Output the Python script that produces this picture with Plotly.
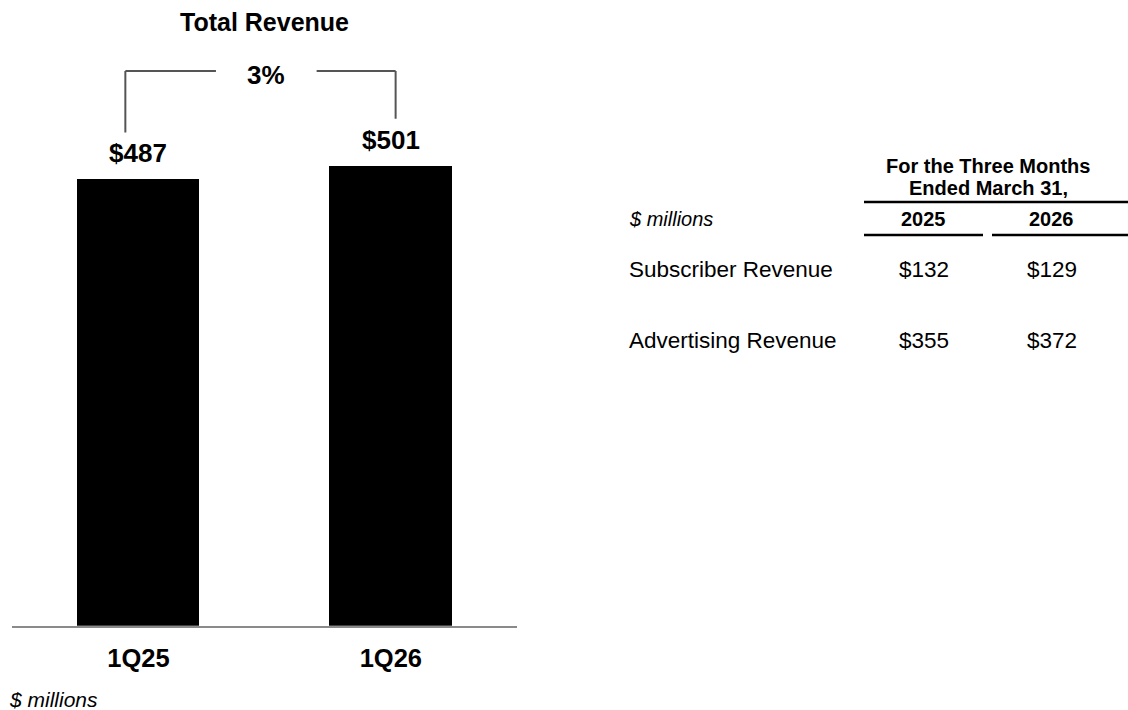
import plotly.graph_objects as go

# Quarterly totals ($ millions)
quarters = ["1Q25", "1Q26"]
total_revenue = [487, 501]

# Breakdown table
table_years = ["2025", "2026"]
row_labels = ["Subscriber Revenue", "Advertising Revenue"]
rev_2025 = [132, 355]
rev_2026 = [129, 372]

FONT = "Liberation Sans, Arial, sans-serif"
W, H = 1128, 710


def px(x):
    return x / W


def py(y):
    return 1 - y / H


fig = go.Figure()
fig.add_trace(go.Bar(
    x=quarters, y=total_revenue,
    marker=dict(color="#000000", line=dict(width=0)),
    width=0.485, hoverinfo="skip",
))

annotations = []
shapes = []

# Value labels above bars
for q, v in zip(quarters, total_revenue):
    annotations.append(dict(
        x=q, y=v, xref="x", yref="y", text=f"<b>${v}</b>",
        showarrow=False, yanchor="bottom", xanchor="center", yshift=9,
        font=dict(family=FONT, size=26, color="#000"),
    ))

# Growth bracket
growth = (total_revenue[1] - total_revenue[0]) / total_revenue[0] * 100
top_y = 605
bcol = "#555555"
shapes += [
    dict(type="line", xref="x", yref="y", x0=-0.052, x1=-0.052,
         y0=total_revenue[0] + 51, y1=top_y, line=dict(color=bcol, width=2)),
    dict(type="line", xref="x", yref="y", x0=-0.052, x1=0.307,
         y0=top_y, y1=top_y, line=dict(color=bcol, width=2)),
    dict(type="line", xref="x", yref="y", x0=0.706, x1=1.019,
         y0=top_y, y1=top_y, line=dict(color=bcol, width=2)),
    dict(type="line", xref="x", yref="y", x0=1.019, x1=1.019,
         y0=total_revenue[1] + 52, y1=top_y, line=dict(color=bcol, width=2)),
]
annotations.append(dict(
    x=0.505, y=top_y, xref="x", yref="y", text=f"<b>{growth:.0f}%</b>",
    showarrow=False, yanchor="middle", xanchor="center", yshift=-4,
    font=dict(family=FONT, size=26, color="#000"),
))

# Chart title and unit note
annotations.append(dict(
    x=px(264), y=py(22), xref="paper", yref="paper", text="<b>Total Revenue</b>",
    showarrow=False, yanchor="middle", xanchor="center",
    font=dict(family=FONT, size=25, color="#000"),
))
annotations.append(dict(
    x=px(7), y=py(699), xref="paper", yref="paper", text="<i>$ millions</i>",
    showarrow=False, yanchor="middle", xanchor="left",
    font=dict(family=FONT, size=21, color="#000"),
))

# Table header
for txt, yy in [("For the Three Months", 166), ("Ended March 31,", 188)]:
    annotations.append(dict(
        x=px(988), y=py(yy), xref="paper", yref="paper", text=f"<b>{txt}</b>",
        showarrow=False, yanchor="middle", xanchor="center",
        font=dict(family=FONT, size=20, color="#000"),
    ))
annotations.append(dict(
    x=px(627), y=py(219), xref="paper", yref="paper", text="<i>$ millions</i>",
    showarrow=False, yanchor="middle", xanchor="left",
    font=dict(family=FONT, size=20, color="#000"),
))
col_x = [923.5, 1051.5]
for yr, cx in zip(table_years, col_x):
    annotations.append(dict(
        x=px(cx), y=py(219), xref="paper", yref="paper", text=f"<b>{yr}</b>",
        showarrow=False, yanchor="middle", xanchor="center",
        font=dict(family=FONT, size=20, color="#000"),
    ))

shapes += [
    dict(type="line", xref="paper", yref="paper", x0=px(864), x1=px(1128),
         y0=py(202), y1=py(202), line=dict(color="#000", width=2.5)),
    dict(type="line", xref="paper", yref="paper", x0=px(864), x1=px(983),
         y0=py(235), y1=py(235), line=dict(color="#000", width=2.5)),
    dict(type="line", xref="paper", yref="paper", x0=px(992), x1=px(1128),
         y0=py(235), y1=py(235), line=dict(color="#000", width=2.5)),
]

# Table rows
row_y = [270, 340]
for lab, a, b, ry in zip(row_labels, rev_2025, rev_2026, row_y):
    annotations.append(dict(
        x=px(627), y=py(ry), xref="paper", yref="paper", text=lab,
        showarrow=False, yanchor="middle", xanchor="left",
        font=dict(family=FONT, size=22.5, color="#000"),
    ))
    for val, cx in zip([a, b], col_x):
        annotations.append(dict(
            x=px(cx), y=py(ry), xref="paper", yref="paper", text=f"${val}",
            showarrow=False, yanchor="middle", xanchor="center",
            font=dict(family=FONT, size=22.5, color="#000"),
        ))

fig.update_layout(
    width=W, height=H,
    margin=dict(l=0, r=0, t=0, b=0),
    paper_bgcolor="white", plot_bgcolor="white",
    showlegend=False,
    bargap=0,
    xaxis=dict(
        domain=[px(12.3), px(517)], range=[-0.5, 1.5],
        showline=True, linecolor="#8a8a8a", linewidth=1.5,
        showgrid=False, zeroline=False, ticks="", fixedrange=True,
        tickfont=dict(family=FONT, size=25.5, color="#000"),
        tickmode="array", tickvals=quarters,
        ticktext=[f"<b>{q}</b>" for q in quarters],
        ticklabelstandoff=9,
    ),
    yaxis=dict(
        domain=[py(625.7), py(40)], range=[0, (625.7 - 40) / 0.9167],
        visible=False, showgrid=False, zeroline=False, fixedrange=True,
    ),
    annotations=annotations,
    shapes=shapes,
)

fig.write_html("out.html")
